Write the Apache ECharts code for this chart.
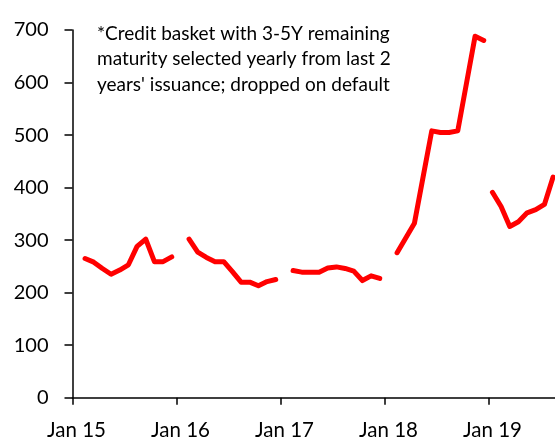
<!DOCTYPE html>
<html>
<head>
<meta charset="utf-8">
<script src="https://cdn.jsdelivr.net/npm/echarts@6/dist/echarts.min.js"></script>
<style>
html,body{margin:0;padding:0;background:#fff;}
#chart{width:555px;height:439px;}
</style>
</head>
<body>
<div id="chart"></div>
<script>
// Tick labels on the x axis (one per January)
var xTickLabels = ['Jan 15', 'Jan 16', 'Jan 17', 'Jan 18', 'Jan 19'];
// First month of each yearly basket
var basketStarts = ['2015-02', '2016-02', '2017-02', '2018-02', '2019-01'];
// Monthly values of each basket
var basket2015 = [265, 258, 246, 235, 243, 253, 288, 302, 259, 259, 268];
var basket2016 = [302, 277, 267, 259, 259, 240, 220, 220, 213, 221, 225];
var basket2017 = [242, 239, 239, 239, 247, 249, 246, 241, 223, 232, 227];
var basket2018 = [276, 304, 332, 420, 508, 505, 505, 508, 598, 688, 680];
var basket2019 = [391, 364, 326, 335, 352, 358, 368, 420];
var baskets = [basket2015, basket2016, basket2017, basket2018, basket2019];
var noteLines = [
  '*Credit basket with 3-5Y remaining',
  'maturity selected yearly from last 2',
  "years' issuance; dropped on default"
];

// months since Jan 2015, placed mid-month
function monthPos(ym, k) {
  var p = ym.split('-');
  return (parseInt(p[0], 10) - 2015) * 12 + (parseInt(p[1], 10) - 1) + k + 0.45;
}
var tickValues = xTickLabels.map(function (_, i) { return i * 12; });

var series = baskets.map(function (vals, i) {
  return {
    type: 'line',
    name: 'basket' + i,
    showSymbol: false,
    symbol: 'none',
    smooth: false,
    clip: true,
    lineStyle: { color: '#ff0000', width: 5, cap: 'round', join: 'round' },
    data: vals.map(function (v, k) { return [monthPos(basketStarts[i], k), v]; }),
    animation: false
  };
});

var FONT = 'Lato, "Open Sans", sans-serif';
var chart = echarts.init(document.getElementById('chart'), null, { renderer: 'canvas' });
chart.setOption({
  animation: false,
  backgroundColor: '#ffffff',
  grid: { left: 72.5, right: 0, top: 30, bottom: 41.3, containLabel: false, outerBoundsMode: 'none' },
  xAxis: {
    type: 'value',
    min: 0,
    max: 55.67,
    interval: 12,
    splitLine: { show: false },
    axisLine: { show: true, onZero: false, lineStyle: { color: '#000', width: 1.5 } },
    axisTick: { show: true, inside: false, length: 7, customValues: tickValues, lineStyle: { color: '#000', width: 1.5 } },
    axisLabel: {
      show: true,
      margin: 22,
      fontFamily: FONT,
      fontSize: 20.5,
      color: '#000',
      padding: [0, 0, 0, 8],
      customValues: tickValues,
      formatter: function (v) {
        var idx = Math.round(v / 12);
        return (Math.abs(v - idx * 12) < 1e-6 && xTickLabels[idx]) ? xTickLabels[idx] : '';
      }
    }
  },
  yAxis: {
    type: 'value',
    min: 0,
    max: 700,
    interval: 100,
    splitLine: { show: false },
    axisLine: { show: true, lineStyle: { color: '#000', width: 1.5 } },
    axisTick: { show: true, inside: false, length: 8, lineStyle: { color: '#000', width: 1.5 } },
    axisLabel: { margin: 24, fontFamily: FONT, fontSize: 20, color: '#000' }
  },
  graphic: [{
    type: 'text',
    left: 97,
    top: 21,
    style: {
      text: noteLines.join('\n'),
      font: '19px ' + FONT,
      fill: '#000',
      lineHeight: 25.5
    }
  }],
  series: series
});
</script>
</body>
</html>
